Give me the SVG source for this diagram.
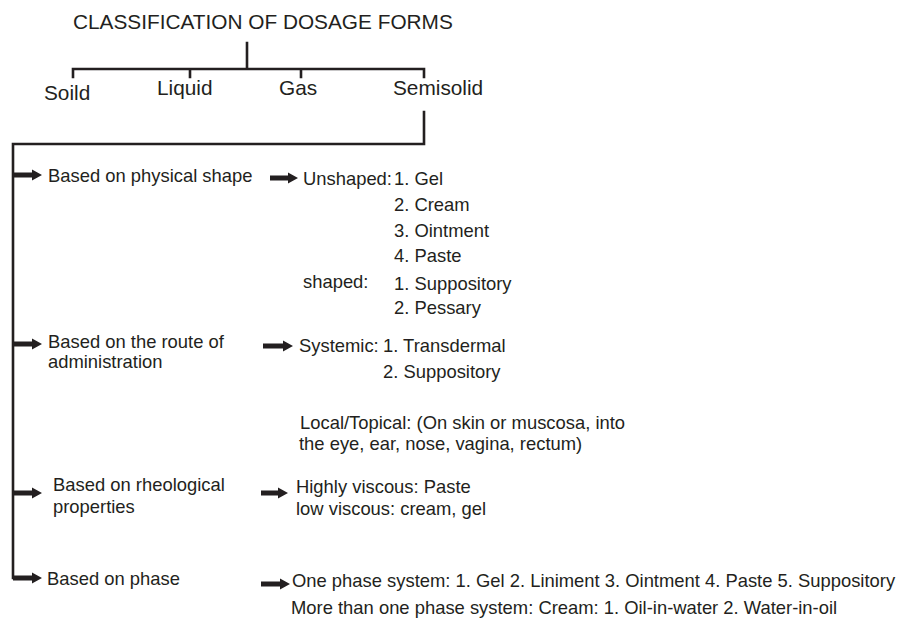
<svg xmlns="http://www.w3.org/2000/svg" width="898" height="619" viewBox="0 0 898 619">
<style>
text{font-family:"Liberation Sans",Arial,sans-serif;fill:#231f20}
.h{font-size:20.8px}
.b{font-size:18.4px}
.ln{stroke:#231f20;stroke-width:2.6;fill:none;stroke-linecap:square}
.ar{fill:#231f20}
</style>
<rect width="898" height="619" fill="#fff"/>
<g id="connectors">
<path class="ln" d="M247 43V69M73 69H424M73 69V77M190 69V77M301 69V77M424 69V77"/>
<path class="ln" d="M424 112V144H13V578H30"/>
<path class="ar" d="M13 172.5H32V169.5L42 175L32 180.5V177.5H13Z"/>
<path class="ar" d="M13 341.5H32V338.5L42 344L32 349.5V346.5H13Z"/>
<path class="ar" d="M13 490.5H32V487.5L42 493L32 498.5V495.5H13Z"/>
<path class="ar" d="M13 575.5H32V572.5L42 578L32 583.5V580.5H13Z"/>
<path class="ar" d="M270 175.5H288V172.5L298 178L288 183.5V180.5H270Z"/>
<path class="ar" d="M263 343.5H283V340.5L293 346L283 351.5V348.5H263Z"/>
<path class="ar" d="M261 490.5H278V487.5L288 493L278 498.5V495.5H261Z"/>
<path class="ar" d="M261 581.5H280V578.5L290 584L280 589.5V586.5H261Z"/>
</g>
<g id="title"><text class="h" x="73" y="29">CLASSIFICATION OF DOSAGE FORMS</text></g>
<g id="solid"><text class="h" x="44" y="100">Soild</text></g>
<g id="liquid"><text class="h" x="157" y="95">Liquid</text></g>
<g id="gas"><text class="h" x="279" y="95">Gas</text></g>
<g id="semisolid"><text class="h" x="393" y="95">Semisolid</text></g>
<g id="physical"><text class="b" x="48" y="182">Based on physical shape</text></g>
<g id="physical-list">
<text class="b" x="303" y="185">Unshaped:</text>
<text class="b" x="394" y="185">1. Gel</text>
<text class="b" x="394" y="211">2. Cream</text>
<text class="b" x="394" y="237">3. Ointment</text>
<text class="b" x="394" y="262">4. Paste</text>
<text class="b" x="303" y="288">shaped:</text>
<text class="b" x="394" y="290">1. Suppository</text>
<text class="b" x="394" y="314">2. Pessary</text>
</g>
<g id="route"><text class="b" x="48" y="348">Based on the route of</text><text class="b" x="48" y="368">administration</text></g>
<g id="route-list">
<text class="b" x="299" y="352">Systemic:</text>
<text class="b" x="383" y="352">1. Transdermal</text>
<text class="b" x="383" y="378">2. Suppository</text>
<text class="b" x="300" y="429">Local/Topical: (On skin or muscosa, into</text>
<text class="b" x="299" y="450">the eye, ear, nose, vagina, rectum)</text>
</g>
<g id="rheo"><text class="b" x="53" y="491">Based on rheological</text><text class="b" x="53" y="513">properties</text></g>
<g id="rheo-list"><text class="b" x="296" y="493">Highly viscous: Paste</text><text class="b" x="296" y="515">low viscous: cream, gel</text></g>
<g id="phase"><text class="b" x="47" y="585">Based on phase</text></g>
<g id="phase-list">
<text class="b" x="292" y="587">One phase system: 1. Gel 2. Liniment 3. Ointment 4. Paste 5. Suppository</text>
<text class="b" x="291" y="614">More than one phase system: Cream: 1. Oil-in-water 2. Water-in-oil</text>
</g>
</svg>
